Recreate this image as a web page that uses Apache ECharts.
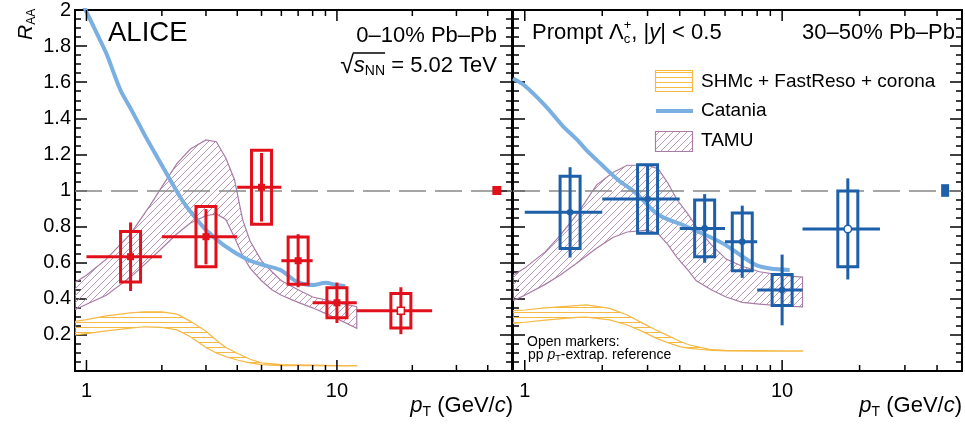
<!DOCTYPE html>
<html><head><meta charset="utf-8">
<script src="https://cdn.jsdelivr.net/npm/echarts@6/dist/echarts.min.js"></script>
<style>html,body{margin:0;padding:0;background:#fff}#c{width:965px;height:428px}</style>
</head><body><div id="c"></div>
<script>
// ---------------- data ----------------
const xMinorTicks = [1,2,3,4,5,6,7,8,9,10,20,30,40];
const xLabelVals = [1,10];

// 0-10% Pb-Pb
const c010_x    = [1.5, 3, 5, 7, 10, 18];
const c010_xlo  = [1, 2, 4, 6, 8, 12];
const c010_xhi  = [2, 4, 6, 8, 12, 24];
const c010_y    = [0.633, 0.744, 1.018, 0.611, 0.378, 0.334];
const c010_stat = [0.19, 0.153, 0.19, 0.147, 0.112, 0.13];
const c010_syst = [0.14, 0.167, 0.205, 0.131, 0.083, 0.096];
const c010_open = [0, 0, 0, 0, 0, 1];
const c010_norm = [43.5, 1, 0.025];

// 30-50% Pb-Pb
const c3050_x    = [1.5, 3, 5, 7, 10, 18];
const c3050_xlo  = [1, 2, 4, 6, 8, 12];
const c3050_xhi  = [2, 4, 6, 8, 12, 24];
const c3050_y    = [0.879, 0.953, 0.79, 0.716, 0.449, 0.787];
const c3050_stat = [0.25, 0.19, 0.19, 0.2, 0.196, 0.28];
const c3050_syst = [0.2, 0.19, 0.157, 0.16, 0.086, 0.21];
const c3050_open = [0, 0, 0, 0, 0, 1];
const c3050_norm = [43, 1, 0.035];

// Catania
const cat010_x = [0.97,1.0,1.1,1.2,1.366,1.5,1.72,2.0,2.16,2.4,2.6,3.0,3.53,4.37,5.0,5.94,6.92,8.07,8.98,10,10.8];
const cat010_y = [2.03,1.99,1.87,1.76,1.557,1.455,1.30,1.14,1.058,0.95,0.883,0.781,0.698,0.619,0.59,0.56,0.495,0.476,0.489,0.476,0.47];
const cat3050_x = [0.9,1.0,1.2,1.4,1.6,1.735,2.0,2.3,2.71,3.24,3.6,4.12,5.22,6.0,7.03,7.93,9.0,10.7];
const cat3050_y = [1.62,1.58,1.47,1.36,1.28,1.224,1.14,1.06,0.984,0.874,0.84,0.809,0.744,0.70,0.633,0.587,0.568,0.56];

// TAMU
const tamu010_x  = [0.9,1.0,1.2,1.5,1.8,2.0,2.3,2.6,3.0,3.3,3.6,3.9,4.2,4.5,5.0,5.5,6.0,7.0,8.0,10.0,12.0];
const tamu010_hi = [0.49,0.53,0.62,0.76,0.92,1.02,1.15,1.23,1.28,1.27,1.18,1.06,0.84,0.72,0.61,0.55,0.50,0.45,0.41,0.38,0.356];
const tamu010_lo = [0.34,0.37,0.42,0.52,0.62,0.68,0.76,0.82,0.86,0.87,0.84,0.74,0.64,0.57,0.50,0.45,0.42,0.38,0.35,0.29,0.237];
const tamu3050_x  = [0.9,1.0,1.2,1.37,1.6,1.9,2.2,2.5,3.0,3.3,3.6,3.9,4.3,4.64,5.3,6.06,7.0,8.17,10.0,12.0];
const tamu3050_hi = [0.53,0.57,0.66,0.75,0.87,1.03,1.10,1.14,1.14,1.12,1.04,0.95,0.87,0.80,0.70,0.62,0.58,0.55,0.53,0.52];
const tamu3050_lo = [0.39,0.42,0.48,0.53,0.60,0.68,0.74,0.77,0.78,0.76,0.70,0.63,0.56,0.50,0.45,0.41,0.38,0.37,0.36,0.355];

// SHMc + FastReso + corona
const shm010_x  = [0.9,1.0,1.2,1.5,1.7,2.0,2.3,2.6,3.0,3.3,3.6,4.0,4.5,5.0,6.0,8.0,10.0,12.0];
const shm010_hi = [0.275,0.285,0.305,0.322,0.328,0.328,0.315,0.275,0.22,0.17,0.13,0.098,0.065,0.045,0.035,0.032,0.03,0.03];
const shm010_lo = [0.20,0.207,0.222,0.238,0.245,0.242,0.228,0.19,0.13,0.10,0.08,0.061,0.045,0.035,0.03,0.029,0.028,0.028];
const shm3050_x  = [0.9,1.0,1.2,1.59,1.735,2.14,2.5,2.88,3.2,3.55,4.0,4.37,5.22,6.0,8.0,10.0,12.0];
const shm3050_hi = [0.334,0.338,0.35,0.362,0.366,0.347,0.31,0.264,0.23,0.2,0.165,0.144,0.12,0.115,0.113,0.112,0.112];
const shm3050_lo = [0.264,0.27,0.282,0.297,0.298,0.283,0.255,0.218,0.185,0.16,0.135,0.125,0.115,0.112,0.11,0.11,0.11];

// ---------------- styling helpers ----------------
const FF = '"Liberation Sans", Arial, Helvetica, sans-serif';
const RED = '#e2101b', BLUE = '#1d5fa9', CAT = '#7aafe1', TAMU = '#a87ca6', SHM = '#f5b944';

function hatchDiag(color){
  const n = 7;
  const c=document.createElement('canvas'); c.width=n; c.height=n;
  const g=c.getContext('2d'); g.strokeStyle=color; g.lineWidth=0.9;
  g.beginPath(); g.moveTo(0,n); g.lineTo(n,0); g.moveTo(-2,2); g.lineTo(2,-2); g.moveTo(n-2,n+2); g.lineTo(n+2,n-2); g.stroke();
  return c;
}
function hatchHoriz(color){
  const c=document.createElement('canvas'); c.width=4; c.height=5;
  const g=c.getContext('2d'); g.fillStyle=color; g.fillRect(0,2,4,1);
  return c;
}
const patTamu = {image: hatchDiag('#b48db2'), repeat:'repeat'};
const patShm = {image: hatchHoriz(SHM), repeat:'repeat'};

const mctx = document.createElement('canvas').getContext('2d');
function fontStr(s,i){ return (i?'italic ':'') + s + 'px ' + FF; }
function tw(t,s,i){ mctx.font = fontStr(s,i); return mctx.measureText(t).width; }
function compose(pieces, x, y, align){
  let total=0; const pos=[];
  pieces.forEach(p=>{ pos.push(total); if(!p.noAdv) total += tw(p.t,p.s,p.i); });
  const x0 = align==='right' ? x-total : x;
  return pieces.map((p,k)=>({type:'text', x:x0+pos[k], y:y+(p.dy||0), silent:true,
    style:{text:p.t, font:fontStr(p.s,p.i), fill:'#000', align:'left', verticalAlign:'middle'}}));
}

function bandSeries(xs, lo, hi, pat, color, xi, yi){
  return {type:'custom', xAxisIndex:xi, yAxisIndex:yi, clip:true, silent:true, z:1,
    data: xs.map((v,i)=>[v, lo[i], hi[i]]),
    renderItem: function(params, api){
      if(params.dataIndex!==0) return null;
      const pts=[];
      for(let i=0;i<xs.length;i++) pts.push(api.coord([xs[i],hi[i]]));
      for(let i=xs.length-1;i>=0;i--) pts.push(api.coord([xs[i],lo[i]]));
      return {type:'polygon', shape:{points:pts}, style:{fill:pat, stroke:color, lineWidth:1.2}};
    }};
}

function pointSeries(xs,xlo,xhi,ys,st,sy,op,color,shape,xi,yi){
  return {type:'custom', xAxisIndex:xi, yAxisIndex:yi, clip:false, silent:true, z:5,
    data: xs.map((v,i)=>[v, ys[i], xlo[i], xhi[i], st[i], sy[i], op[i]]),
    renderItem: function(params, api){
      const x=api.value(0), y=api.value(1), a=api.value(2), b=api.value(3), s1=api.value(4), s2=api.value(5), o=api.value(6);
      const c=api.coord([x,y]), l=api.coord([a,y]), h=api.coord([b,y]);
      const t1=api.coord([x,y+s1]), t2=api.coord([x,y-s1]);
      const b1=api.coord([x,y+s2]), b2=api.coord([x,y-s2]);
      const bw=10, lw=3;
      const ch=[
        {type:'rect', shape:{x:c[0]-bw, y:b1[1], width:2*bw, height:b2[1]-b1[1]}, style:{fill:'none', stroke:color, lineWidth:lw}},
        {type:'line', shape:{x1:l[0], y1:c[1], x2:h[0], y2:c[1]}, style:{stroke:color, lineWidth:lw}},
        {type:'line', shape:{x1:c[0], y1:t1[1], x2:c[0], y2:t2[1]}, style:{stroke:color, lineWidth:lw}}
      ];
      if(shape==='square'){
        ch.push(o ? {type:'rect', shape:{x:c[0]-3.5,y:c[1]-3.5,width:7,height:7}, style:{fill:'#fff', stroke:color, lineWidth:1.5}}
                  : {type:'rect', shape:{x:c[0]-3.5,y:c[1]-3.5,width:7,height:7}, style:{fill:color}});
      } else {
        ch.push(o ? {type:'circle', shape:{cx:c[0],cy:c[1],r:3.8}, style:{fill:'#fff', stroke:color, lineWidth:1.5}}
                  : {type:'circle', shape:{cx:c[0],cy:c[1],r:3.3}, style:{fill:color}});
      }
      return {type:'group', children:ch};
    }};
}

function normSeries(n, color, w, xi, yi){
  return {type:'custom', xAxisIndex:xi, yAxisIndex:yi, clip:false, silent:true, z:5,
    data:[n],
    renderItem: function(params, api){
      const p1=api.coord([api.value(0), api.value(1)+api.value(2)]);
      const p2=api.coord([api.value(0), api.value(1)-api.value(2)]);
      return {type:'rect', shape:{x:p1[0]-w/2, y:p1[1], width:w, height:p2[1]-p1[1]}, style:{fill:color}};
    }};
}

function tickSeries(xi, yi){
  return {type:'custom', xAxisIndex:xi, yAxisIndex:yi, clip:false, silent:true, z:6,
    data: xMinorTicks.map(v=>[v]),
    renderItem: function(params, api){
      const v=api.value(0);
      const len = xLabelVals.indexOf(v)>=0 ? 11 : 6;
      const b=api.coord([v,0]), t=api.coord([v,2]);
      return {type:'group', children:[
        {type:'line', shape:{x1:b[0],y1:b[1],x2:b[0],y2:b[1]-len}, style:{stroke:'#000', lineWidth:1.5}},
        {type:'line', shape:{x1:t[0],y1:t[1],x2:t[0],y2:t[1]+len}, style:{stroke:'#000', lineWidth:1.5}}
      ]};
    }};
}

function catSeries(xs, ys, xi, yi){
  return {type:'line', xAxisIndex:xi, yAxisIndex:yi, smooth:0.3, showSymbol:false, symbol:'none', silent:true, z:3,
    data: xs.map((v,i)=>[v, ys[i]]), lineStyle:{color:CAT, width:4},
    markLine:{silent:true, symbol:['none','none'], label:{show:false}, animation:false,
      lineStyle:{color:'#888', width:1.5, type:[27,9]}, data:[{yAxis:1}]}};
}

function xAx(gi){
  return {type:'log', logBase:10, gridIndex:gi, min:0.9, max:50,
    axisLine:{show:false}, axisTick:{show:false}, splitLine:{show:false}, minorTick:{show:false},
    axisLabel:{show:true, margin:10, color:'#000', fontSize:20, fontFamily:FF,
      formatter: v => { const l=Math.log10(v); return (Math.abs(l-Math.round(l))<1e-6 && v>0.99 && v<10.1) ? String(Math.round(v)) : ''; }}};
}
function yAx(gi, pos, labels){
  return {type:'value', gridIndex:gi, position:pos, min:0, max:2, interval:0.2,
    axisLine:{show:false}, splitLine:{show:false},
    axisTick:{show:true, inside:true, length:12, lineStyle:{color:'#000', width:1.5}},
    minorTick:{show:true, splitNumber:4, length:6, lineStyle:{color:'#000', width:1.5}},
    axisLabel:{show:labels, margin:4, color:'#000', fontSize:20, fontFamily:FF,
      formatter: v => (Math.abs(v)<1e-9 ? '' : (Math.abs(v-Math.round(v))<1e-9 ? String(Math.round(v)) : v.toFixed(1)))}};
}

// ---------------- graphics (texts, legend) ----------------
const graphics = [];
graphics.push(...compose([{t:'ALICE', s:27.5}], 108, 33, 'left'));
graphics.push(...compose([{t:'0–10% Pb–Pb', s:22}], 497, 36, 'right'));
const sq = compose([{t:'√', s:25}, {t:'s', s:22, i:1}, {t:'NN', s:14, dy:5}, {t:' = 5.02 TeV', s:22}], 497, 66, 'right');
graphics.push(...sq);
const sqx1 = sq[1].x - 1, sqx2 = sq[3].x;
graphics.push({type:'line', silent:true, shape:{x1:sqx1, y1:53, x2:sqx2, y2:53}, style:{stroke:'#000', lineWidth:1.3}});
graphics.push(...compose([{t:'Prompt Λ', s:22}, {t:'c', s:13, dy:6, noAdv:1}, {t:'+', s:13, dy:-8}, {t:', |', s:22}, {t:'y', s:22, i:1}, {t:'| < 0.5', s:22}], 532, 33, 'left'));
graphics.push(...compose([{t:'30–50% Pb–Pb', s:22}], 955, 33, 'right'));
graphics.push(...compose([{t:'p', s:22, i:1}, {t:'T', s:14, dy:6}, {t:' (GeV/', s:22}, {t:'c', s:22, i:1}, {t:')', s:22}], 513, 406, 'right'));
graphics.push(...compose([{t:'p', s:22, i:1}, {t:'T', s:14, dy:6}, {t:' (GeV/', s:22}, {t:'c', s:22, i:1}, {t:')', s:22}], 962, 406, 'right'));
graphics.push(...compose([{t:'Open markers:', s:14}], 527, 342, 'left'));
graphics.push(...compose([{t:'pp ', s:14}, {t:'p', s:14, i:1}, {t:'T', s:9, dy:4}, {t:'-extrap. reference', s:14}], 528, 355, 'left'));
// legend
graphics.push({type:'rect', silent:true, shape:{x:655.5, y:70.5, width:37, height:21}, style:{fill:patShm, stroke:SHM, lineWidth:1.2}});
graphics.push(...compose([{t:'SHMc + FastReso + corona', s:19}], 701, 82, 'left'));
graphics.push({type:'line', silent:true, shape:{x1:656, y1:111, x2:693, y2:111}, style:{stroke:CAT, lineWidth:4}});
graphics.push(...compose([{t:'Catania', s:19}], 701, 111, 'left'));
graphics.push({type:'rect', silent:true, shape:{x:655.5, y:131.5, width:37, height:20}, style:{fill:patTamu, stroke:TAMU, lineWidth:1.2}});
graphics.push(...compose([{t:'TAMU', s:19}], 701, 141, 'left'));
// y title R_AA (rotated)
const wR = tw('R', 21, true);
graphics.push({type:'group', x:26, y:40, rotation:Math.PI/2, silent:true, children:[
  {type:'text', x:0, y:0, style:{text:'R', font:fontStr(21,true), fill:'#000', align:'left', verticalAlign:'middle'}},
  {type:'text', x:wR, y:6, style:{text:'AA', font:fontStr(12,false), fill:'#000', align:'left', verticalAlign:'middle'}}
]});

// ---------------- chart ----------------
const chart = echarts.init(document.getElementById('c'));
chart.setOption({
  animation:false,
  backgroundColor:'#fff',
  grid:[
    {left:75, top:10, width:437, height:361, show:true, borderColor:'#000', borderWidth:2, backgroundColor:'transparent'},
    {left:513, top:10, width:450, height:361, show:true, borderColor:'#000', borderWidth:2, backgroundColor:'transparent'}
  ],
  xAxis:[xAx(0), xAx(1)],
  yAxis:[yAx(0,'left',true), yAx(0,'right',false), yAx(1,'left',false), yAx(1,'right',false)],
  series:[
    bandSeries(tamu010_x, tamu010_lo, tamu010_hi, patTamu, TAMU, 0, 0),
    bandSeries(shm010_x, shm010_lo, shm010_hi, patShm, SHM, 0, 0),
    catSeries(cat010_x, cat010_y, 0, 0),
    pointSeries(c010_x,c010_xlo,c010_xhi,c010_y,c010_stat,c010_syst,c010_open,RED,'square',0,0),
    normSeries(c010_norm, RED, 9, 0, 0),
    tickSeries(0,0),
    bandSeries(tamu3050_x, tamu3050_lo, tamu3050_hi, patTamu, TAMU, 1, 2),
    bandSeries(shm3050_x, shm3050_lo, shm3050_hi, patShm, SHM, 1, 2),
    catSeries(cat3050_x, cat3050_y, 1, 2),
    pointSeries(c3050_x,c3050_xlo,c3050_xhi,c3050_y,c3050_stat,c3050_syst,c3050_open,BLUE,'circle',1,2),
    normSeries(c3050_norm, BLUE, 8, 1, 2),
    tickSeries(1,2)
  ],
  graphic:{elements:graphics}
});
</script>
</body></html>
